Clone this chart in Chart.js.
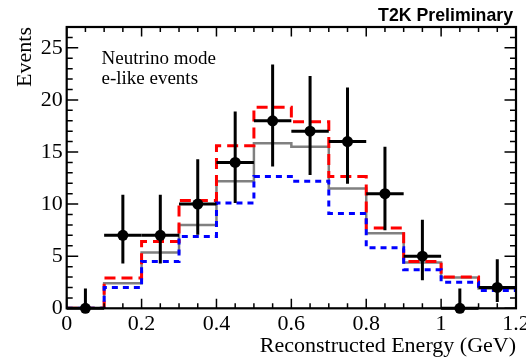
<!DOCTYPE html>
<html>
<head>
<meta charset="utf-8">
<script src="https://cdn.jsdelivr.net/npm/chart.js@4"></script>
<style>
  html, body { margin: 0; padding: 0; background: #fff; }
  #wrap { width: 526px; height: 359px; }
</style>
</head>
<body>
<div id="wrap"><canvas id="chart"></canvas></div>
<script>
// bins in reconstructed energy (GeV)
const binEdges = [0, 0.1, 0.2, 0.3, 0.4, 0.5, 0.6, 0.7, 0.8, 0.9, 1.0, 1.1, 1.2]
const binCenters = [0.05, 0.15, 0.25, 0.35, 0.45, 0.55, 0.65, 0.75, 0.85, 0.95, 1.05, 1.15]

// observed events and their error band
const observed = [0, 7, 7, 10, 14, 18, 17, 16, 11, 5, 0, 2]
const observedHigh = [1.9, 10.9, 10.9, 14.3, 18.9, 23.4, 22.3, 21.2, 15.5, 8.5, 1.9, 4.7]
const observedLow = [0, 4.3, 4.3, 7.05, 10.1, 13.6, 12.8, 11.95, 7.5, 2.7, 0, 0.6]

// predictions (step histograms)
const predRed = [0, 2.9, 6.4, 10.35, 15.6, 19.3, 17.9, 12.65, 7.7, 4.5, 3.0, 2.0]
const predGray = [0, 2.4, 5.35, 8.0, 12.2, 15.85, 15.5, 11.5, 7.2, 4.4, 2.95, 1.9]
const predBlue = [0, 2.0, 4.5, 6.9, 10.1, 12.65, 12.2, 9.1, 5.8, 3.7, 2.5, 1.7]

const xTickValues = [0, 0.2, 0.4, 0.6, 0.8, 1, 1.2]
const yTickValues = [0, 5, 10, 15, 20, 25]

const serif = 'Liberation Serif'

// bin i runs from edge i to edge i+1; the last edge repeats the last bin
const steps = values => binEdges.map((x, i) => ({ x, y: values[Math.min(i, values.length - 1)] }))

const errorBars = {
  id: 'errorBars',
  beforeDatasetDraw(chart, args) {
    if (args.index !== 0) return
    const { ctx, scales: { x, y } } = chart
    ctx.save()
    ctx.strokeStyle = '#000'
    ctx.lineWidth = 3
    binCenters.forEach((c, i) => {
      const px = x.getPixelForValue(c)
      const py = y.getPixelForValue(observed[i])
      ctx.beginPath()
      ctx.moveTo(x.getPixelForValue(binEdges[i]), py)
      ctx.lineTo(x.getPixelForValue(binEdges[i + 1]), py)
      ctx.moveTo(px, y.getPixelForValue(observedLow[i]))
      ctx.lineTo(px, y.getPixelForValue(observedHigh[i]))
      ctx.stroke()
    })
    ctx.restore()
  }
}

const frame = {
  id: 'frame',
  afterDraw(chart) {
    const { ctx, chartArea: a, scales: { x, y } } = chart
    ctx.save()
    ctx.strokeStyle = '#000'
    ctx.lineWidth = 1.5
    ctx.beginPath()
    // x ticks, bottom and top
    for (let k = 0; k <= 24; k++) {
      const px = x.getPixelForValue(k * 0.05)
      const len = k % 4 === 0 ? 9.5 : 5
      ctx.moveTo(px, a.bottom); ctx.lineTo(px, a.bottom - len)
      ctx.moveTo(px, a.top); ctx.lineTo(px, a.top + len)
    }
    // y ticks, left and right
    for (let v = 0; v <= 27; v++) {
      const py = y.getPixelForValue(v)
      const len = v % 5 === 0 ? 11.5 : 6
      ctx.moveTo(a.left, py); ctx.lineTo(a.left + len, py)
      ctx.moveTo(a.right, py); ctx.lineTo(a.right - len, py)
    }
    ctx.stroke()
    ctx.lineWidth = 2.2
    ctx.strokeRect(a.left, a.top, a.right - a.left, a.bottom - a.top)

    // annotations
    ctx.fillStyle = '#000'
    ctx.textBaseline = 'alphabetic'
    ctx.textAlign = 'left'
    ctx.font = `19px "${serif}"`
    ctx.fillText('Neutrino mode', 101.5, 64)
    ctx.fillText('e-like events', 101.5, 83.5)

    ctx.textAlign = 'right'
    ctx.font = 'bold 17px "Liberation Sans"'
    const w = ctx.measureText('T2K Preliminary').width
    ctx.font = `bold ${(17 * 135 / w).toFixed(2)}px "Liberation Sans"`
    ctx.fillText('T2K Preliminary', 513, 20.7)
    ctx.restore()
  }
}

const axisFont = { family: serif, size: 22 }

new Chart(document.querySelector('#chart'), {
  data: {
    datasets: [
      {
        type: 'scatter', label: 'Data',
        data: binCenters.map((x, i) => ({ x, y: observed[i] })),
        pointRadius: 5.5, pointBackgroundColor: '#000', pointBorderColor: '#000', pointBorderWidth: 0,
        clip: false
      },
      {
        type: 'line', label: 'blue', data: steps(predBlue), stepped: 'before',
        borderColor: '#0000ff', borderWidth: 3, borderDash: [6, 5], pointRadius: 0, fill: false
      },
      {
        type: 'line', label: 'red', data: steps(predRed), stepped: 'before',
        borderColor: '#ff0000', borderWidth: 3, borderDash: [11, 6], pointRadius: 0, fill: false
      },
      {
        type: 'line', label: 'gray', data: steps(predGray), stepped: 'before',
        borderColor: '#808080', borderWidth: 2.5, pointRadius: 0, fill: false
      }
    ]
  },
  options: {
    responsive: true,
    maintainAspectRatio: false,
    animation: false,
    layout: { padding: { left: 0, top: 27, right: 10, bottom: 0 } },
    plugins: { legend: { display: false }, tooltip: { enabled: false } },
    scales: {
      x: {
        type: 'linear', min: 0, max: 1.2,
        afterBuildTicks: s => { s.ticks = xTickValues.map(value => ({ value })) },
        afterFit: s => { s.height = 50.7; s.paddingLeft = 0; s.paddingRight = 0 },
        grid: { display: false, drawTicks: false },
        border: { display: false },
        ticks: { font: axisFont, color: '#000', padding: 3, maxRotation: 0, autoSkip: false, callback: v => String(v) },
        title: { display: true, text: 'Reconstructed Energy (GeV)', align: 'end', font: axisFont, color: '#000', padding: 0 }
      },
      y: {
        type: 'linear', min: 0, max: 27,
        afterBuildTicks: s => { s.ticks = yTickValues.map(value => ({ value })) },
        afterFit: s => { s.width = 66.7; s.paddingTop = 0; s.paddingBottom = 0 },
        grid: { display: false, drawTicks: false },
        border: { display: false },
        ticks: { font: axisFont, color: '#000', padding: 4, callback: v => String(v) },
        title: { display: true, text: 'Events', align: 'end', font: axisFont, color: '#000', padding: { top: 12, bottom: 0 } }
      }
    }
  },
  plugins: [errorBars, frame]
})
</script>
</body>
</html>
